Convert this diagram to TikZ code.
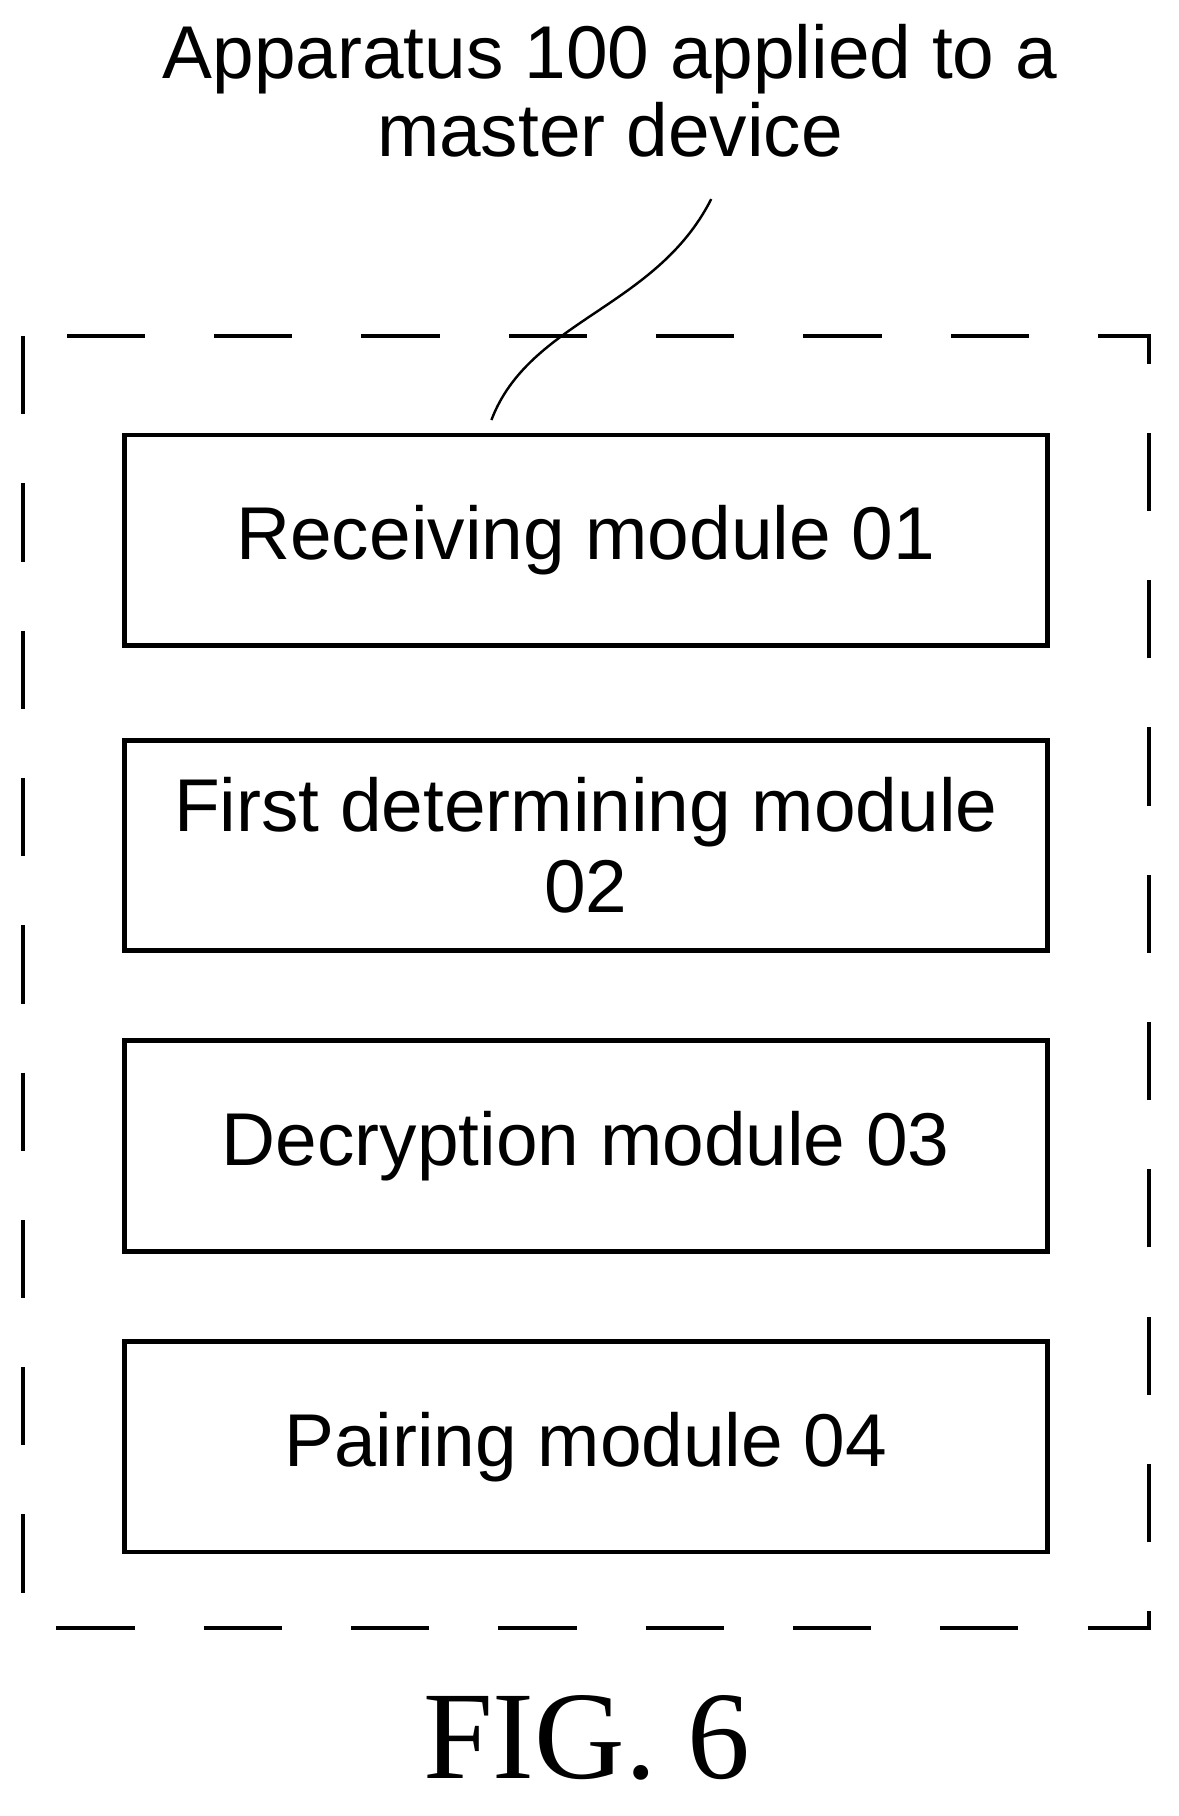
\documentclass[tikz,border=0pt]{standalone}
\usepackage{fontspec}
\setmainfont{Liberation Sans}
\newfontfamily\figfont{Liberation Serif}
\usetikzlibrary{positioning}
\tikzset{module/.style={draw,line width=1.2pt,minimum width=8.02cm,minimum height=1.83cm,
  inner sep=0pt,align=center,font=\fontsize{18.5}{20}\selectfont}}
\begin{document}
\begin{tikzpicture}
		\useasboundingbox (0,0) rectangle (10.24,15.78);
		\draw[line width=1pt,dash pattern=on 0.68cm off 0.6cm] (0.20,12.86) rectangle (9.98,1.63);
		\node[align=center,font=\fontsize{18.5}{19.3}\selectfont] (title) at (5.30,14.99) {Apparatus 100 applied to a\\master device};
		\node[module] (m1) at (5.09,11.085) {Receiving module 01};
		\node[module,below=0.78cm of m1] (m2) {First determining module\\02};
		\node[module,below=0.74cm of m2] (m3) {Decryption module 03};
		\node[module,below=0.74cm of m3] (m4) {Pairing module 04};
		\coordinate (lead) at (6.18,14.05);
		\coordinate (tip) at (4.27,12.13);
		\draw[line width=0.6pt] (lead) .. controls (5.7,13.1) and (4.6,13.0) .. (tip);
		\node[font=\figfont\fontsize{31}{36}\selectfont] (fig) at (5.10,0.68) {FIG. 6};
\end{tikzpicture}
\end{document}
